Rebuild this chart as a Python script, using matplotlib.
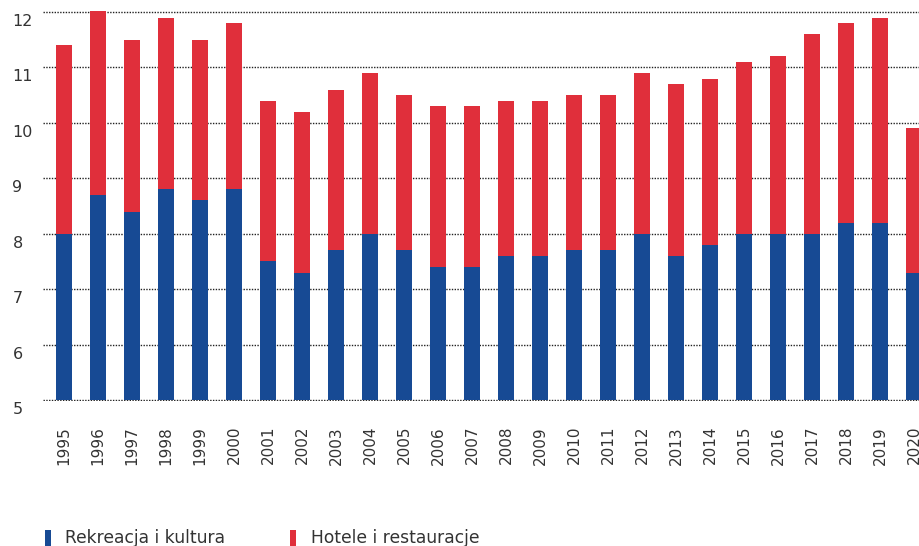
import matplotlib
matplotlib.use("Agg")
import matplotlib.pyplot as plt
from matplotlib.patches import Rectangle
from matplotlib.transforms import ScaledTranslation

years = [str(y) for y in range(1995, 2021)]
rekreacja = [8.0, 8.7, 8.4, 8.8, 8.6, 8.8, 7.5, 7.3, 7.7, 8.0, 7.7, 7.4, 7.4,
             7.6, 7.6, 7.7, 7.7, 8.0, 7.6, 7.8, 8.0, 8.0, 8.0, 8.2, 8.2, 7.3]
hotele = [3.4, 3.4, 3.1, 3.1, 2.9, 3.0, 2.9, 2.9, 2.9, 2.9, 2.8, 2.9, 2.9,
          2.8, 2.8, 2.8, 2.8, 2.9, 3.1, 3.0, 3.1, 3.2, 3.6, 3.6, 3.7, 2.6]
series_names = ["Rekreacja i kultura", "Hotele i restauracje"]
base = 5

BLUE = "#174a94"
RED = "#e02f3b"
TXT = "#333333"

plt.rcParams['font.family'] = ['DejaVu Sans']

W, H = 919, 546
fig = plt.figure(figsize=(W / 100, H / 100), dpi=100)
ax = fig.add_axes([43 / W, 1 - 401 / H, 1 - 43 / W, (401 - 11) / H])

x = list(range(len(years)))
blue_h = [v - base for v in rekreacja]
ax.bar(x, blue_h, bottom=base, width=0.47, color=BLUE, edgecolor='none', zorder=3)
ax.bar(x, hotele, bottom=rekreacja, width=0.47, color=RED, edgecolor='none', zorder=3)

ax.set_ylim(4.982, 12.018)
ax.set_xlim(-0.62, 25.15)
ax.set_yticks(range(5, 13))
ax.set_xticks(x)
ax.set_xticklabels(years, rotation=90, fontsize=11, color=TXT)
for s in ax.spines.values():
    s.set_visible(False)
ax.grid(axis='y', color='#222222', linestyle=(0, (1, 1)), linewidth=1.0, zorder=1)
ax.tick_params(axis='x', length=0, pad=18)
ax.tick_params(axis='y', length=0, pad=22, labelsize=11.5, labelcolor=TXT)
off = ScaledTranslation(0, -8 / 100, fig.dpi_scale_trans)
for lab in ax.get_yticklabels():
    lab.set_ha('left')
    lab.set_transform(lab.get_transform() + off)

# legend
for px, col, name, tx in [(45, BLUE, series_names[0], 65), (290, RED, series_names[1], 311)]:
    fig.patches.append(Rectangle((px / W, 0), 6 / W, 16 / H, transform=fig.transFigure,
                                 facecolor=col, edgecolor='none'))
    fig.text(tx / W, 8 / H, name, fontsize=12.3, color=TXT, va='center', ha='left')

fig.savefig("out.png", dpi=100)
